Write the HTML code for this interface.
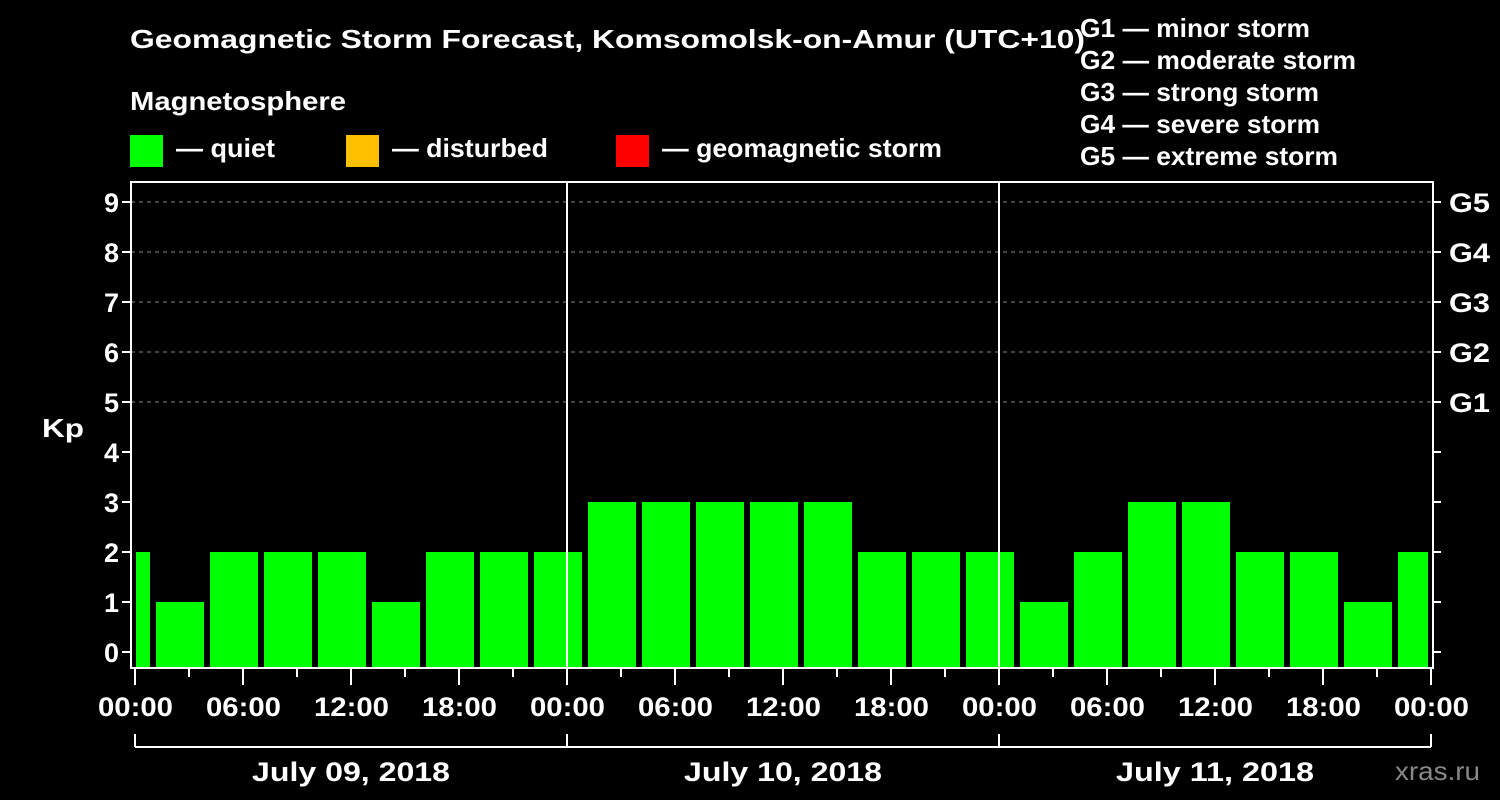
<!DOCTYPE html>
<html><head><meta charset="utf-8"><style>
body{margin:0;background:#000;}
svg{display:block;font-family:"Liberation Sans",Arial,sans-serif;font-weight:bold;}
</style></head><body>
<svg id="chart" width="1500" height="800" viewBox="0 0 1500 800">
<rect width="1500" height="800" fill="#000"/>
<text x="130" y="48" fill="#fff" font-size="26" textLength="955" lengthAdjust="spacingAndGlyphs">Geomagnetic Storm Forecast, Komsomolsk-on-Amur (UTC+10)</text>
<text x="130" y="110" fill="#fff" font-size="26" textLength="216" lengthAdjust="spacingAndGlyphs">Magnetosphere</text>
<g><rect x="130" y="135" width="33" height="32" fill="#00ff00"/><text x="176" y="157" fill="#fff" font-size="26" textLength="99" lengthAdjust="spacingAndGlyphs">— quiet</text></g>
<g><rect x="346" y="135" width="33" height="32" fill="#ffc000"/><text x="392" y="157" fill="#fff" font-size="26" textLength="156" lengthAdjust="spacingAndGlyphs">— disturbed</text></g>
<g><rect x="616" y="135" width="33" height="32" fill="#ff0000"/><text x="662" y="157" fill="#fff" font-size="26" textLength="280" lengthAdjust="spacingAndGlyphs">— geomagnetic storm</text></g>
<g fill="#fff" font-size="26" lengthAdjust="spacingAndGlyphs">
<text x="1080" y="37" textLength="230" lengthAdjust="spacingAndGlyphs">G1 — minor storm</text>
<text x="1080" y="69" textLength="276" lengthAdjust="spacingAndGlyphs">G2 — moderate storm</text>
<text x="1080" y="101" textLength="239" lengthAdjust="spacingAndGlyphs">G3 — strong storm</text>
<text x="1080" y="133" textLength="240" lengthAdjust="spacingAndGlyphs">G4 — severe storm</text>
<text x="1080" y="165" textLength="258" lengthAdjust="spacingAndGlyphs">G5 — extreme storm</text>
</g>
<g id="grid"></g>
<g id="bars"></g>
<g id="axes"></g>
<text x="42" y="437" fill="#fff" font-size="26" textLength="42" lengthAdjust="spacingAndGlyphs">Kp</text>
<text x="1395" y="780" fill="#888" font-size="26" font-weight="normal" textLength="85" lengthAdjust="spacingAndGlyphs">xras.ru</text>
</svg>
<script>
const kpValues=[2,1,2,2,2,1,2,2,2,3,3,3,3,3,2,2,2,1,2,3,3,2,2,1,2];
const blockStartHour=-2;
const yTicks=[0,1,2,3,4,5,6,7,8,9];
const gLabels=["G1","G2","G3","G4","G5"];
const xTickLabels=["00:00","06:00","12:00","18:00"];
const dayLabels=["July 09, 2018","July 10, 2018","July 11, 2018"];

const NS="http://www.w3.org/2000/svg";
const X0=135,PX_H=18,L=131,R=1433,T=182,B=668;
const xs=h=>X0+h*PX_H;
const ys=v=>652-50*v;
function mk(tag,attrs,parent,text){const e=document.createElementNS(NS,tag);for(const k in attrs)e.setAttribute(k,attrs[k]);if(text!=null)e.textContent=text;document.getElementById(parent).appendChild(e);return e;}

for(let v=5;v<=9;v++){
 const g=mk('line',{x1:L,x2:R,y1:ys(v),y2:ys(v),stroke:'#888','stroke-dasharray':'4,4','stroke-width':1},'grid');
 
 
}
kpValues.forEach((v,i)=>{
 const h0=blockStartHour+3*i;
 let x1=xs(h0)+3,x2=xs(h0+3)-3;
 x1=Math.max(x1,L+5);x2=Math.min(x2,R-5);
 const col=v>=5?'#ff0000':(v>=4?'#ffc000':'#00ff00');
 const r=mk('rect',{x:x1,y:ys(v),width:x2-x1,height:B-1-ys(v),fill:col},'bars');
 
 
});
mk('rect',{x:L,y:T,width:R-L,height:B-T,fill:'none',stroke:'#fff','stroke-width':2},'axes');
[1,2].forEach(d=>mk('line',{x1:xs(24*d),x2:xs(24*d),y1:T,y2:B,stroke:'#fff','stroke-width':2},'axes'));
yTicks.forEach(v=>{
 mk('line',{x1:L-9,x2:L,y1:ys(v),y2:ys(v),stroke:'#fff','stroke-width':2},'axes');
 mk('line',{x1:R,x2:R+8,y1:ys(v),y2:ys(v),stroke:'#fff','stroke-width':2},'axes');
 const t=mk('text',{x:L-12,y:ys(v)+10,fill:'#fff','font-size':27,'text-anchor':'end'},'axes',String(v));
 
 
});
gLabels.forEach((g,i)=>{
 const t=mk('text',{x:1449,y:ys(5+i)+10,fill:'#fff','font-size':27,textLength:41,lengthAdjust:'spacingAndGlyphs'},'axes',g);
 
 
});
for(let h=0;h<=72;h+=3){
 const major=h%6===0;
 mk('line',{x1:xs(h),x2:xs(h),y1:B,y2:major?B+17:B+9,stroke:'#fff','stroke-width':2},'axes');
 if(major){
  const t=mk('text',{x:xs(h)-37,y:716,fill:'#fff','font-size':27,textLength:75,lengthAdjust:'spacingAndGlyphs'},'axes',xTickLabels[(h/6)%4]);
  
  
 }
}
mk('line',{x1:xs(0),x2:xs(72),y1:747,y2:747,stroke:'#fff','stroke-width':2},'axes');
for(let d=0;d<=3;d++)mk('line',{x1:xs(24*d),x2:xs(24*d),y1:734,y2:747,stroke:'#fff','stroke-width':2},'axes');
dayLabels.forEach((s,d)=>{
 const t=mk('text',{x:xs(24*d+12)-99,y:781,fill:'#fff','font-size':27,textLength:198,lengthAdjust:'spacingAndGlyphs'},'axes',s);
 
 
});
</script>
</body></html>
